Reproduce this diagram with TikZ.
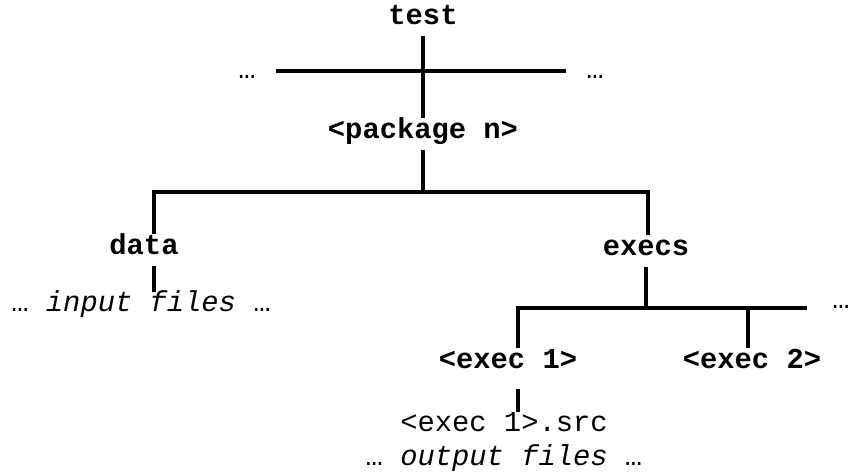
\documentclass[tikz,border=0pt]{standalone}
\usepackage{fontspec}
\setmonofont{Liberation Mono}

\tikzset{
  folder/.style={font=\ttfamily\bfseries\fontsize{14.4}{17}\selectfont, anchor=base,
    inner xsep=0pt, inner ysep=4pt, text height=0.6em, text depth=0.2em},
  leaf/.style={font=\ttfamily\fontsize{14.4}{17}\selectfont, anchor=base,
    inner xsep=0pt, inner ysep=0.5pt, text height=0.9em, text depth=0.2em},
  more/.style={leaf, inner xsep=10pt},
  branch/.style={line width=2pt},
}

\begin{document}
\begin{tikzpicture}[x=0.5pt,y=-0.5pt]
  \useasboundingbox (0,0) rectangle (851,473);
  % directories
  \node[folder] (test)  at (423,24)  {test};
  \node[more]   (moreL) at (247,78)  {…};
  \node[more]   (moreR) at (595,78)  {…};
  \node[folder] (pkg)   at (423,138) {<package n>};
  \node[folder] (data)  at (144,254) {data};
  \node[leaf]   (inputs) at (141,311) {… \textit{input files} …};
  \node[folder] (execs) at (646,255) {execs};
  \node[more]   (moreE) at (841,308) {…};
  \node[folder] (exec1) at (508,368) {<exec 1>};
  \node[folder] (exec2) at (752,368) {<exec 2>};
  \node[leaf]   (src)   at (504,431) {<exec 1>.src};
  \node[leaf]   (outputs) at (504,465) {… \textit{output files} …};
  % corners of the branches
  \coordinate (dataC)  at (154,192);
  \coordinate (execsC) at (648,192);
  \coordinate (exec1C) at (518,308);
  \coordinate (exec2C) at (748,308);
  \coordinate (execEnd) at (807,308);
  % tree lines
  \draw[branch] (test) -- (pkg);
  \draw[branch] (moreL) -- (moreR);
  \draw[branch] (pkg) -- (pkg |- dataC);
  \draw[branch] (data.north -| dataC) -- (dataC) -- (execsC) -- (execs.north -| execsC);
  \draw[branch] (data.south -| dataC) -- (inputs.north -| dataC);
  \draw[branch] (execs) -- (execs |- exec1C);
  \draw[branch] (exec1.north -| exec1C) -- (exec1C) -- (execEnd);
  \draw[branch] (exec2.north -| exec2C) -- (exec2C);
  \draw[branch] ([yshift=-4.5pt]exec1.south -| exec1C) -- (src.north -| exec1C);
\end{tikzpicture}
\end{document}
